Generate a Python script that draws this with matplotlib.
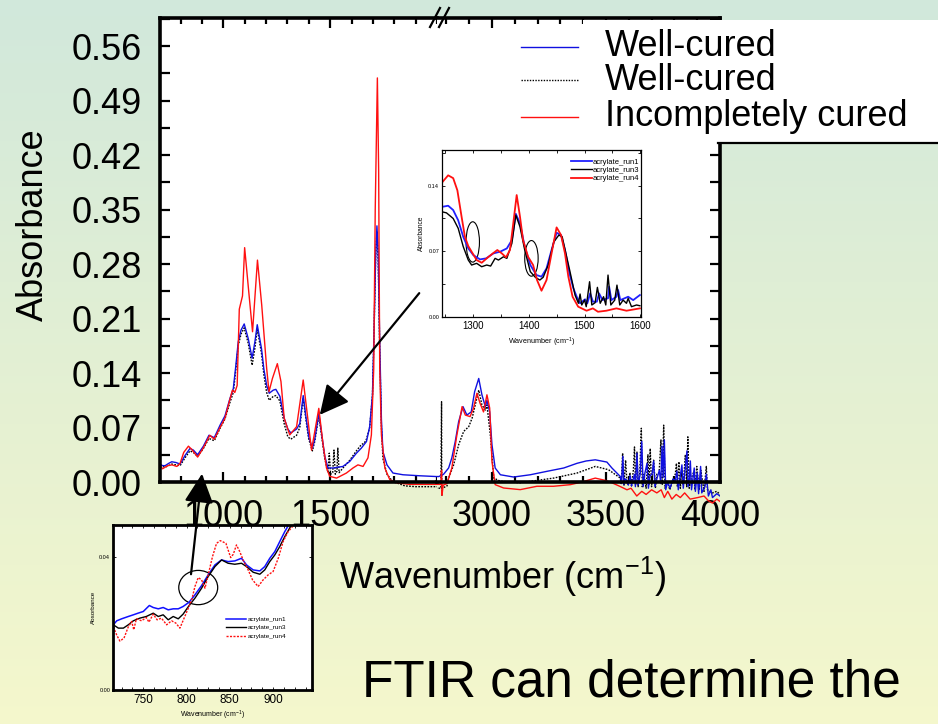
import numpy as np
import matplotlib
matplotlib.use("Agg")
import matplotlib.pyplot as plt
from matplotlib.patches import Rectangle, Ellipse, FancyArrowPatch
from matplotlib.lines import Line2D
from matplotlib.ticker import MultipleLocator

plt.rcParams['font.family'] = ['Liberation Sans', 'DejaVu Sans']

# ---------------- main spectra (wavenumber cm-1, absorbance) ----------------
blue_wn = [704, 716, 728, 745, 759, 779, 798, 821, 844, 860, 880, 907, 933, 958, 985, 1008, 1031, 1047,
           1059, 1070, 1083, 1098, 1117, 1135, 1148, 1159, 1179, 1190, 1203, 1215, 1234, 1246, 1265, 1285,
           1302, 1316, 1343, 1358, 1374, 1386, 1400, 1417, 1428, 1447, 1461, 1475, 1490, 1514, 1560, 1592,
           1623, 1646, 1670, 1685, 1698, 1706, 1713, 1719, 1725, 1732, 1740, 1747, 1766, 1794, 1841, 1919,
           1998,
           2767, 2788, 2810, 2824, 2839, 2854, 2873, 2890, 2909, 2924, 2942, 2956, 2971, 2978, 2990, 3000,
           3014, 3037, 3095, 3168, 3241, 3315, 3373, 3413, 3453, 3504, 3526, 3563,
           3568, 3574, 3578, 3584, 3592, 3598, 3606, 3612, 3625, 3629, 3636, 3641, 3650, 3657, 3663, 3671,
           3680, 3686, 3693, 3702, 3709, 3715, 3723, 3734, 3740, 3746, 3751, 3756, 3762, 3770, 3781, 3794,
           3804, 3811, 3817, 3826, 3833, 3839, 3845, 3855, 3860, 3866, 3870, 3875, 3887, 3892, 3900, 3906,
           3915, 3920, 3934, 3940, 3949, 3960, 3967, 3986, 4000]
blue_abs = [0.023, 0.021, 0.021, 0.024, 0.026, 0.025, 0.023, 0.034, 0.043, 0.041, 0.035, 0.046, 0.060, 0.057,
            0.073, 0.085, 0.107, 0.120, 0.150, 0.180, 0.195, 0.203, 0.184, 0.159, 0.180, 0.202, 0.171, 0.145,
            0.124, 0.114, 0.118, 0.119, 0.110, 0.082, 0.068, 0.063, 0.068, 0.075, 0.111, 0.085, 0.058, 0.0435,
            0.055, 0.088, 0.060, 0.033, 0.018, 0.018, 0.020, 0.0265, 0.037, 0.0435, 0.052, 0.071, 0.112, 0.200,
            0.290, 0.329, 0.290, 0.180, 0.080, 0.039, 0.022, 0.0115, 0.0093, 0.008, 0.007,
            0.007, 0.010, 0.018, 0.031, 0.052, 0.0776, 0.0968, 0.086, 0.090, 0.116, 0.133, 0.112, 0.0968,
            0.105, 0.090, 0.048, 0.018, 0.0093, 0.0064, 0.0093, 0.0137, 0.018, 0.024, 0.027, 0.0285, 0.0256,
            0.018, 0.007,
            -0.002, 0.033, -0.003, 0.004, 0.002, -0.004, 0.008, -0.005, 0.010, -0.006, 0.037, -0.004, 0.010,
            0.052, -0.006, 0.012, 0.024, -0.008, 0.008, 0.010, 0.027, -0.006, 0.004, 0.015, -0.002, 0.046,
            0.006, 0.054, -0.010, 0.000, -0.008, 0.004, 0.002, 0.014, -0.010, 0.008, 0.022, -0.008, 0.010,
            0.040, -0.006, 0.005, 0.027, -0.010, 0.018, -0.012, 0.012, -0.015, 0.020, -0.014, -0.006, 0.010,
            -0.018, -0.010, -0.020, -0.015, -0.018]

black_wn = [704, 728, 759, 779, 798, 821, 844, 860, 880, 907, 933, 958, 985, 1008, 1031, 1047, 1059, 1070,
            1083, 1098, 1117, 1135, 1148, 1159, 1179, 1190, 1203, 1215, 1234, 1246, 1265, 1285, 1302, 1316,
            1343, 1358, 1374, 1386, 1400, 1417, 1428, 1447, 1461, 1475, 1490, 1496, 1502, 1512, 1518, 1524,
            1532, 1536, 1542, 1560, 1592, 1623, 1646, 1660, 1670, 1685, 1698, 1706, 1713, 1719, 1725, 1732,
            1740, 1747, 1766, 1794, 1810, 1850, 1900, 1998,
            2767, 2776, 2779, 2780, 2782, 2803, 2810, 2832, 2854, 2876, 2898, 2913, 2923, 2942, 2956, 2971,
            2978, 2993, 3008, 3037, 3124, 3270, 3373, 3453, 3511, 3563,
            3567, 3573, 3579, 3586, 3592, 3597, 3605, 3612, 3620, 3625, 3630, 3636, 3641, 3648, 3655, 3659,
            3667, 3676, 3684, 3688, 3694, 3700, 3709, 3717, 3723, 3733, 3741, 3747, 3753, 3759, 3768, 3780,
            3794, 3804, 3809, 3813, 3820, 3826, 3831, 3839, 3848, 3854, 3859, 3865, 3873, 3885, 3890, 3898,
            3909, 3916, 3930, 3940, 3945, 3967, 3986, 4000]
black_abs = [0.021, 0.019, 0.023, 0.022, 0.021, 0.031, 0.040, 0.038, 0.033, 0.043, 0.056, 0.053, 0.069, 0.081,
             0.102, 0.115, 0.145, 0.175, 0.190, 0.198, 0.178, 0.150, 0.172, 0.197, 0.165, 0.138, 0.115, 0.105,
             0.110, 0.111, 0.104, 0.075, 0.058, 0.055, 0.060, 0.070, 0.108, 0.082, 0.055, 0.040, 0.052, 0.085,
             0.058, 0.030, 0.012, 0.037, 0.010, 0.012, 0.041, 0.010, 0.014, 0.0435, 0.012, 0.018, 0.028, 0.040,
             0.048, 0.050, 0.055, 0.070, 0.110, 0.200, 0.290, 0.322, 0.285, 0.170, 0.070, 0.030, 0.010, 0.000,
             -0.001, -0.005, -0.006, -0.006,
             -0.008, -0.008, 0.103, -0.018, -0.008, -0.005, 0.005, 0.022, 0.048, 0.065, 0.071, 0.082, 0.0946,
             0.118, 0.099, 0.0924, 0.099, 0.060, 0.005, 0.001, -0.001, 0.005, 0.0115, 0.020, 0.0158, 0.005,
             -0.003, 0.037, -0.004, 0.028, 0.000, -0.004, 0.012, -0.005, 0.015, 0.045, -0.004, 0.039, -0.006,
             0.012, 0.069, -0.006,
             0.010, -0.008, 0.035, -0.004, 0.043, -0.006, 0.028, -0.007, 0.010, 0.012, 0.054, -0.004, 0.073,
             -0.008, 0.002, -0.010,
             0.004, 0.010, 0.024, -0.006, 0.026, -0.008, 0.012, -0.004, 0.035, -0.006, 0.058, -0.008, 0.004,
             0.013, -0.010, 0.020,
             -0.010, 0.015, -0.012, 0.020, -0.010, -0.014, -0.012, -0.016]

red_wn = [704, 716, 740, 760, 783, 798, 815, 837, 852, 880, 905, 937, 958, 985, 1008, 1028, 1043, 1054,
          1065, 1075, 1090, 1100, 1118, 1137, 1160, 1180, 1203, 1214, 1230, 1253, 1270, 1285, 1311, 1343,
          1374, 1413, 1447, 1467, 1483, 1498, 1530, 1576, 1607, 1630, 1654, 1677, 1693, 1704, 1711, 1721,
          1727, 1732, 1740, 1756, 1779, 1810, 1872, 1998,
          2767, 2776, 2779, 2781, 2786, 2803, 2824, 2846, 2869, 2883, 2904, 2919, 2934, 2948, 2963, 2978,
          2990, 3000, 3014, 3051, 3124, 3197, 3270, 3344, 3394, 3453, 3498, 3526, 3564, 3592, 3610, 3635,
          3657, 3676, 3700, 3723, 3742, 3756, 3771, 3789, 3808, 3826, 3845, 3869, 3902, 3930, 3949, 3967,
          3986, 4000]
red_abs = [0.021, 0.017, 0.021, 0.022, 0.020, 0.024, 0.038, 0.046, 0.042, 0.032, 0.043, 0.060, 0.055, 0.070,
           0.082, 0.103, 0.118, 0.115, 0.124, 0.222, 0.239, 0.301, 0.248, 0.193, 0.285, 0.227, 0.146, 0.116,
           0.133, 0.152, 0.129, 0.082, 0.0605, 0.071, 0.131, 0.041, 0.0946, 0.048, 0.018, 0.0073, 0.005,
           0.0115, 0.018, 0.022, 0.020, 0.031, 0.0605, 0.146, 0.350, 0.519, 0.400, 0.146, 0.060, 0.018, 0.003,
           -0.001, -0.003, -0.003,
           -0.003, -0.003, 0.015, -0.017, -0.004, -0.002, 0.018, 0.060, 0.0968, 0.086, 0.084, 0.0946, 0.114,
           0.101, 0.090, 0.112, 0.095, 0.0265, -0.0034, -0.0077, -0.0098, -0.0055, -0.0055, -0.0034, 0.000,
           0.005, 0.002, -0.001, -0.006, -0.010, -0.008, -0.018, -0.012, -0.016, -0.010, -0.014, -0.010,
           -0.020, -0.012, -0.022, -0.016, -0.020, -0.014, -0.022, -0.020, -0.018, -0.024, -0.027, -0.022,
           -0.025]

legend_labels = ["Well-cured", "Well-cured", "Incompletely cured"]

# ---------------- inset 1 (1245-1600 cm-1) ----------------
in1_blue_wn = [1246, 1256, 1265, 1274, 1283, 1292, 1301, 1313, 1324, 1337, 1349, 1361, 1370, 1377, 1384.5,
               1393, 1403, 1414, 1423, 1432, 1441, 1450, 1458, 1465, 1473, 1480, 1486, 1492, 1501, 1505, 1510,
               1515, 1522, 1526, 1532, 1542, 1544, 1548, 1557, 1560, 1564, 1578, 1587, 1599]
in1_blue_abs = [0.1175, 0.1186, 0.114, 0.103, 0.0855, 0.0731, 0.066, 0.0614, 0.0625, 0.0678, 0.0696, 0.0731,
                0.082, 0.110, 0.0998, 0.0749, 0.0554, 0.0447, 0.043, 0.0518, 0.0714, 0.0898, 0.0873, 0.0714,
                0.0465, 0.0306, 0.0216, 0.0146, 0.0189, 0.0146, 0.0252, 0.0163, 0.0163, 0.0252, 0.0181, 0.020,
                0.0323, 0.018, 0.0216, 0.0288, 0.018, 0.0216, 0.018, 0.0234]
in1_black_wn = [1246, 1253, 1265, 1274, 1283, 1292, 1298, 1307, 1316, 1325, 1332, 1340, 1346, 1355, 1361, 1370,
                1377, 1384.5, 1393, 1403, 1412, 1420, 1426, 1435, 1445, 1454, 1460, 1468, 1474, 1483, 1489,
                1492, 1495, 1500, 1503, 1509, 1513, 1519, 1523, 1528, 1534, 1538, 1542, 1547, 1554, 1558, 1563,
                1569, 1575, 1578, 1584, 1593, 1599]
in1_black_abs = [0.112, 0.111, 0.105, 0.0945, 0.075, 0.0607, 0.0554, 0.0572, 0.0536, 0.0554, 0.0543, 0.0625,
                 0.0607, 0.0642, 0.0625, 0.0785, 0.1086, 0.0962, 0.0714, 0.0483, 0.0423, 0.0394, 0.0423, 0.0554,
                 0.080, 0.0873, 0.0855, 0.0642, 0.0483, 0.0234, 0.0146, 0.0245, 0.0128, 0.0181, 0.011, 0.0376,
                 0.0128, 0.0153, 0.0316, 0.0146, 0.0216, 0.0128, 0.0447, 0.0128, 0.018, 0.034, 0.0128, 0.018,
                 0.0146, 0.0198, 0.011, 0.0128, 0.012]
in1_red_wn = [1246, 1256, 1265, 1272.5, 1280, 1286, 1292, 1298, 1307, 1316, 1325, 1336, 1344, 1352, 1359.5,
              1366.6, 1372.5, 1378.6, 1384.5, 1390, 1399, 1408, 1415, 1423, 1432, 1441, 1450, 1458, 1465, 1471,
              1478.6, 1488.6, 1503.6, 1515, 1524, 1539, 1557, 1575, 1599]
in1_red_abs = [0.144, 0.151, 0.148, 0.135, 0.107, 0.0855, 0.0756, 0.0696, 0.0607, 0.0578, 0.0625, 0.0678,
               0.0714, 0.0678, 0.0636, 0.0714, 0.0998, 0.130, 0.107, 0.082, 0.0642, 0.0554, 0.0394, 0.028,
               0.0394, 0.0678, 0.0955, 0.0873, 0.0678, 0.043, 0.0216, 0.011, 0.0067, 0.0092, 0.0056, 0.0067,
               0.0092, 0.0067, 0.0092]
in_labels = ["acrylate_run1", "acrylate_run3", "acrylate_run4"]

# ---------------- inset 2 (715-945 cm-1) ----------------
in2_blue_wn = [715.4, 719.3, 725, 732.7, 738.5, 744, 750, 757, 761.5, 767.3, 773, 778.8, 784.6, 790.4, 796,
               803, 809.7, 817.4, 825, 832.8, 840.5, 848, 855.8, 863.5, 869.3, 877, 884.7, 890.4, 896.2, 902,
               907.7, 913.5, 919.3]
in2_blue_abs = [0.0196, 0.0208, 0.0214, 0.0221, 0.0226, 0.0231, 0.0236, 0.0254, 0.0248, 0.0244, 0.0248,
                0.0241, 0.0244, 0.0244, 0.0251, 0.0264, 0.0286, 0.0314, 0.0346, 0.0376, 0.0391, 0.0386, 0.0388,
                0.0396, 0.0376, 0.0361, 0.0358, 0.0371, 0.0396, 0.0416, 0.0446, 0.0476, 0.0502]
in2_black_wn = [715.4, 721.2, 727, 732.7, 738.5, 746, 753.5, 761.5, 767.3, 773, 778.8, 784.6, 790.4, 796, 803,
                809.7, 817.4, 825, 832.8, 840.5, 848, 855.8, 863.5, 869.3, 877, 884.7, 890.4, 896.2, 902,
                907.7, 913.5, 921.2]
in2_black_abs = [0.0196, 0.0186, 0.0186, 0.0196, 0.0208, 0.0216, 0.0221, 0.0231, 0.0221, 0.0226, 0.0211,
                 0.0221, 0.0214, 0.0228, 0.0254, 0.0276, 0.0306, 0.0341, 0.0371, 0.0391, 0.0381, 0.0378, 0.0381,
                 0.0371, 0.0354, 0.0348, 0.0361, 0.0386, 0.0406, 0.0431, 0.0461, 0.0496]
in2_red_wn = [715.4, 719.3, 723, 727.7, 732.7, 736.6, 739, 742, 748, 753.5, 756.5, 761.5, 766, 771, 777,
              782.7, 787.7, 792.3, 798, 802, 806, 809.7, 813.5, 817.4, 821.3, 825, 830, 834.7, 839, 845.5, 851,
              854, 857.7, 861.5, 866.2, 871.2, 876.3, 882.7, 888.5, 894.3, 900, 906, 911.6, 917.4, 922.4]
in2_red_abs = [0.019, 0.0165, 0.0147, 0.0156, 0.019, 0.0206, 0.0181, 0.0214, 0.0208, 0.0218, 0.0204, 0.0228,
               0.0211, 0.0216, 0.0196, 0.0208, 0.0201, 0.0186, 0.0221, 0.0246, 0.0271, 0.0311, 0.0338, 0.0331,
               0.0306, 0.0346, 0.0401, 0.0441, 0.0449, 0.0441, 0.0398, 0.0408, 0.0436, 0.0416, 0.0386, 0.0361,
               0.0331, 0.0311, 0.0331, 0.0346, 0.0356, 0.0396, 0.0446, 0.0476, 0.0491]

W, H = 938, 724
def fx(px):
    return px / W
def fy(py):
    return 1 - py / H

fig = plt.figure(figsize=(W / 100, H / 100), dpi=100)

# background gradient
bg = fig.add_axes([0, 0, 1, 1], zorder=-10)
top = np.array([0.82, 0.91, 0.86])
bot = np.array([0.96, 0.97, 0.80])
t = np.linspace(0, 1, 256)[:, None]
grad = (top[None, :] * (1 - t) + bot[None, :] * t)[:, None, :]
bg.imshow(grad, aspect='auto', extent=[0, 1, 0, 1])
bg.set_axis_off()

y0, y1 = 482, 18
ax1 = fig.add_axes([fx(160), fy(y0), fx(437) - fx(160), fy(y1) - fy(y0)])
ax2 = fig.add_axes([fx(437), fy(y0), fx(720) - fx(437), fy(y1) - fy(y0)])
ymax = 0.07 * (y0 - y1) / 54.5

spine_w = 2.6
for ax, xl in ((ax1, (704, 2000)), (ax2, (2759, 4000))):
    ax.set_xlim(*xl)
    ax.set_ylim(0, ymax)
    ax.set_facecolor('white')
    clip = Rectangle((0, -0.12), 1, 1.12, transform=ax.transAxes, facecolor='none', edgecolor='none')
    ax.add_patch(clip)
    for wn, ab, kw in ((black_wn, black_abs, dict(color='black', lw=1.0, ls=(0, (1.2, 1.0)))),
                       (blue_wn, blue_abs, dict(color='#1010e0', lw=1.0)),
                       (red_wn, red_abs, dict(color='#ff1010', lw=1.0))):
        ln, = ax.plot(wn, ab, **kw)
        ln.set_clip_path(clip)
    ax.yaxis.set_major_locator(MultipleLocator(0.07))
    ax.yaxis.set_minor_locator(MultipleLocator(0.035))
    ax.xaxis.set_minor_locator(MultipleLocator(100))
    ax.tick_params(which='both', direction='in', top=True, right=True, width=1.6, labelsize=26)
    ax.tick_params(axis='x', which='major', length=7, pad=12)
    ax.tick_params(axis='x', which='minor', length=4)
    ax.tick_params(axis='y', which='both', length=7, pad=13)
    for s in ax.spines.values():
        s.set_linewidth(spine_w)

ax1.set_xticks([1000, 1500])
ax1.set_yticks(np.arange(0, 0.561, 0.07))
ax1.set_yticklabels([f"{v:.2f}" for v in np.arange(0, 0.561, 0.07)])
ax1.spines['right'].set_visible(False)
ax1.tick_params(right=False, which='both')
ax2.set_xticks([3000, 3500, 4000])
ax2.spines['left'].set_visible(False)
ax2.tick_params(left=False, labelleft=False, which='both')

fig.text(fx(33), fy(225), "Absorbance", rotation=90, ha='center', va='center', fontsize=26)
fig.text(fx(503), fy(577), r"Wavenumber (cm$^{\mathregular{-1}}$)", ha='center', va='center', fontsize=26)

# break marks
for dx in (0, 9):
    fig.add_artist(Line2D([fx(430 + dx), fx(440 + dx)], [fy(27), fy(8)], color='black', lw=1.6))

# white legend box and main legend
fig.add_artist(Rectangle((fx(583), fy(143)), fx(938) - fx(583), fy(20) - fy(143), transform=fig.transFigure,
                         facecolor='white', edgecolor='none', zorder=5))
fig.add_artist(Line2D([fx(718), fx(938)], [fy(143), fy(143)], color='black', lw=1.6, zorder=6))
leg_styles = [dict(color='#1010e0', lw=1.0), dict(color='black', lw=1.0, ls=(0, (1, 1))),
              dict(color='#ff1010', lw=1.0)]
for lab, st, yy in zip(legend_labels, leg_styles, (47, 80, 117)):
    fig.add_artist(Line2D([fx(521), fx(578)], [fy(yy), fy(yy)], zorder=6, **st))
    fig.text(fx(605), fy(yy), lab, ha='left', va='center', fontsize=26, zorder=7)

# ---------------- inset 1 ----------------
ia = fig.add_axes([fx(442), fy(317), fx(641) - fx(442), fy(150) - fy(317)])
ia.plot(in1_blue_wn, in1_blue_abs, color='#2020ff', lw=1.3, label=in_labels[0])
ia.plot(in1_black_wn, in1_black_abs, color='black', lw=1.0, label=in_labels[1])
ia.plot(in1_red_wn, in1_red_abs, color='#ff1010', lw=1.3, label=in_labels[2])
ia.set_xlim(1245, 1601)
ia.set_ylim(0, 0.178)
ia.set_xticks([1300, 1400, 1500, 1600])
ia.set_yticks([0.0, 0.07, 0.14])
ia.set_yticklabels(["0.00", "0.07", "0.14"])
ia.xaxis.set_minor_locator(MultipleLocator(50))
ia.yaxis.set_minor_locator(MultipleLocator(0.035))
ia.tick_params(which='both', direction='in', top=True, right=True, width=0.6, length=2)
ia.tick_params(axis='x', labelsize=7, pad=3)
ia.tick_params(axis='y', labelsize=4, pad=2)
for s in ia.spines.values():
    s.set_linewidth(0.9)
ia.set_xlabel(r"Wavenumber (cm$^{\mathregular{-1}}$)", fontsize=5.2, labelpad=3)
ia.set_ylabel("Absorbance", fontsize=4.8, labelpad=2)
ia.legend(loc='upper left', bbox_to_anchor=(0.648, 0.95), frameon=False, fontsize=5.5, borderpad=0,
          handlelength=2.8, handletextpad=0.0, labelspacing=0.12, borderaxespad=0)
ia.add_patch(Ellipse((1300, 0.080), 24, 0.043, fill=False, edgecolor='black', lw=0.8))
ia.add_patch(Ellipse((1405, 0.0625), 24, 0.038, fill=False, edgecolor='black', lw=0.8))

# ---------------- inset 2 ----------------
ib = fig.add_axes([fx(113), fy(690), fx(312) - fx(113), fy(525) - fy(690)], zorder=4)
ib.plot(in2_blue_wn, in2_blue_abs, color='#1010ff', lw=1.1, label=in_labels[0])
ib.plot(in2_black_wn, in2_black_abs, color='black', lw=1.0, label=in_labels[1])
ib.plot(in2_red_wn, in2_red_abs, color='#ff1010', lw=1.0, ls=(0, (1.5, 1)), label=in_labels[2])
ib.set_xlim(715, 945)
ib.set_ylim(0, 0.0496)
ib.set_xticks([750, 800, 850, 900])
ib.set_yticks([0.0, 0.04])
ib.set_yticklabels(["0.00", "0.04"])
ib.xaxis.set_minor_locator(MultipleLocator(12.5))
ib.tick_params(which='both', direction='in', top=True, right=True, width=0.6, length=2)
ib.tick_params(axis='x', labelsize=8.5, pad=3)
ib.tick_params(axis='y', labelsize=4, pad=2)
for s in ib.spines.values():
    s.set_linewidth(2.0)
ib.set_xlabel(r"Wavenumber (cm$^{\mathregular{-1}}$)", fontsize=5, labelpad=2)
ib.set_ylabel("Absorbance", fontsize=4.5, labelpad=2)
ib.legend(loc='upper left', bbox_to_anchor=(0.57, 0.445), frameon=False, fontsize=4.6, borderpad=0,
          handlelength=3.0, handletextpad=0.3, labelspacing=0.45, borderaxespad=0)
ib.add_patch(Ellipse((813.5, 0.0308), 45, 0.0103, fill=False, edgecolor='black', lw=0.9))

# arrows
def arrow(p0, p1):
    a = FancyArrowPatch((fx(p0[0]), fy(p0[1])), (fx(p1[0]), fy(p1[1])), transform=fig.transFigure,
                        arrowstyle='-|>,head_length=1.0,head_width=0.5', mutation_scale=18,
                        color='black', lw=1.6, zorder=8)
    fig.add_artist(a)
arrow((421, 291), (318, 417))
arrow((190.7, 577), (202.3, 471))

fig.text(fx(362), fy(683), "FTIR can determine the", ha='left', va='center', fontsize=37)

fig.savefig("out.png", dpi=100)
